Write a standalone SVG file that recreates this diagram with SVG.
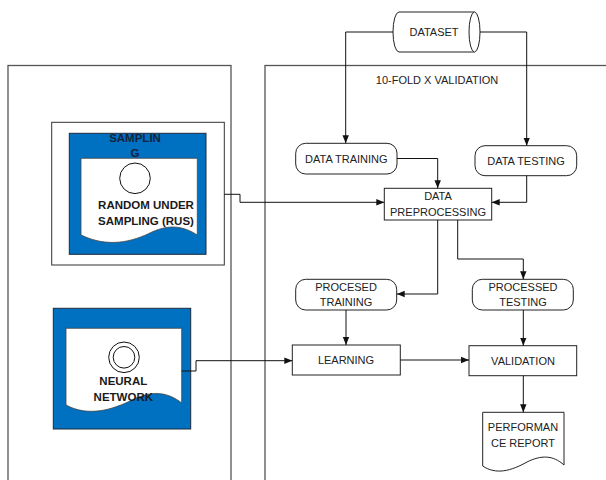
<svg xmlns="http://www.w3.org/2000/svg" width="606" height="480" viewBox="0 0 606 480">
  <style>
    .panel { fill: #ffffff; stroke: #555555; stroke-width: 1.3; }
    .box { fill: #ffffff; stroke: #222222; stroke-width: 1; }
    .blue { fill: #0070c0; stroke: #1c2a3a; stroke-width: 1; }
    .doc { fill: #ffffff; stroke: #444444; stroke-width: 0.8; }
    .t { font-family: "Liberation Sans", Arial, sans-serif; font-size: 11px; fill: #222222; text-anchor: middle; }
    .b { font-family: "Liberation Sans", Arial, sans-serif; font-size: 11.5px; font-weight: bold; fill: #1a1a1a; text-anchor: middle; }
    .lbl { fill: #13233b; }
    .conn { fill: none; stroke: #111111; stroke-width: 1; }
  </style>
  <defs>
    <marker id="arrow" viewBox="0 0 8 8" refX="8" refY="4" markerWidth="8" markerHeight="8" markerUnits="userSpaceOnUse" orient="auto">
      <path d="M0,0.8 L8,4 L0,7.2 Z" fill="#111111"/>
    </marker>
  </defs>

  <rect width="606" height="480" fill="#ffffff"/>

  <!-- swimlane panels -->
  <g id="panel-left">
    <rect class="panel" x="8" y="65.5" width="223" height="440"/>
  </g>
  <g id="panel-right">
    <rect class="panel" x="265" y="65.5" width="400" height="440"/>
    <text class="t" x="437" y="84">10-FOLD X VALIDATION</text>
  </g>

  <!-- sampling block -->
  <g id="sampling">
    <rect x="51.7" y="122.3" width="172.6" height="142.7" fill="#ffffff" stroke="#333333" stroke-width="1"/>
    <rect class="blue" x="69.3" y="133.3" width="136.7" height="121"/>
    <text class="b lbl" x="135" y="142">SAMPLIN</text>
    <text class="b lbl" x="135" y="157">G</text>
    <path class="doc" d="M81,158.3 H197.3 V235 C183,226 170,224 152,232 C132,242 108,248 81,235 Z"/>
    <circle cx="135" cy="178.3" r="15.3" fill="#ffffff" stroke="#111111" stroke-width="1"/>
    <text class="b" x="146" y="209">RANDOM UNDER</text>
    <text class="b" x="146" y="225">SAMPLING (RUS)</text>
  </g>

  <!-- neural network block -->
  <g id="neural-network">
    <rect class="blue" x="53.3" y="308.3" width="137.4" height="120.7"/>
    <path class="doc" d="M66,328.3 H181.7 V403 C168,392 152,390 132,400 C112,410 88,417 66,405 Z"/>
    <circle cx="124" cy="357.3" r="15.3" fill="#ffffff" stroke="#111111" stroke-width="1"/>
    <circle cx="124" cy="357.3" r="10.8" fill="#ffffff" stroke="#111111" stroke-width="1"/>
    <text class="b" x="123.3" y="385">NEURAL</text>
    <text class="b" x="123.3" y="401">NETWORK</text>
  </g>

  <!-- dataset cylinder -->
  <g id="dataset">
    <path class="box" d="M399,12 H474.5 A5.5,20 0 0 1 474.5,52 H399 A6,20 0 0 1 399,12 Z"/>
    <path class="box" fill="none" d="M474.5,12 A5.5,20 0 0 0 474.5,52"/>
    <text class="t" x="434" y="36">DATASET</text>
  </g>

  <g id="data-training">
    <rect class="box" x="295.7" y="143.3" width="101.3" height="30.7" rx="10" ry="10"/>
    <text class="t" x="346.3" y="162.5">DATA TRAINING</text>
  </g>

  <g id="data-testing">
    <rect class="box" x="475" y="145.7" width="101.7" height="30" rx="10" ry="10"/>
    <text class="t" x="526" y="164.5">DATA TESTING</text>
  </g>

  <g id="data-preprocessing">
    <rect class="box" x="384.3" y="188.3" width="107.4" height="31.7"/>
    <text class="t" x="438" y="200">DATA</text>
    <text class="t" x="438" y="215.5">PREPROCESSING</text>
  </g>

  <g id="procesed-training">
    <rect class="box" x="295.7" y="279.3" width="101" height="30.7" rx="10" ry="10"/>
    <text class="t" x="346" y="291">PROCESED</text>
    <text class="t" x="346" y="306">TRAINING</text>
  </g>

  <g id="processed-testing">
    <rect class="box" x="472.3" y="279.3" width="101" height="30.7" rx="10" ry="10"/>
    <text class="t" x="523" y="291">PROCESSED</text>
    <text class="t" x="523" y="306">TESTING</text>
  </g>

  <g id="learning">
    <rect class="box" x="292.3" y="345" width="108" height="30"/>
    <text class="t" x="346" y="364">LEARNING</text>
  </g>

  <g id="validation">
    <rect class="box" x="469" y="345.7" width="107.7" height="30"/>
    <text class="t" x="523" y="364.5">VALIDATION</text>
  </g>

  <g id="performance-report">
    <path class="box" d="M482.7,412.3 H564 V465 C553,455 541,455 527,462 C511,471 496,475 482.7,466 Z"/>
    <text class="t" x="523" y="430.5">PERFORMAN</text>
    <text class="t" x="523" y="446.5">CE REPORT</text>
  </g>

  <!-- connectors -->
  <g id="connectors">
    <path class="conn" marker-end="url(#arrow)" d="M393,32 H345.7 V143.3"/>
    <path class="conn" marker-end="url(#arrow)" d="M480,32 H526.7 V145.7"/>
    <path class="conn" marker-end="url(#arrow)" d="M397,158.5 H437.7 V188.3"/>
    <path class="conn" marker-end="url(#arrow)" d="M526.7,175.7 V202.3 H491.7"/>
    <path class="conn" marker-end="url(#arrow)" d="M224.3,194.3 H240 V202.3 H384.3"/>
    <path class="conn" marker-end="url(#arrow)" d="M437.7,220 V294 H396.7"/>
    <path class="conn" marker-end="url(#arrow)" d="M457.7,220 V259 H523.3 V279.3"/>
    <path class="conn" marker-end="url(#arrow)" d="M346,310 V345"/>
    <path class="conn" marker-end="url(#arrow)" d="M523.3,310 V345.7"/>
    <path class="conn" marker-end="url(#arrow)" d="M181.7,371 H196 V360.7 H292.3"/>
    <path class="conn" marker-end="url(#arrow)" d="M400.3,360 H469"/>
    <path class="conn" marker-end="url(#arrow)" d="M523.3,375.7 V412.3"/>
  </g>
</svg>
